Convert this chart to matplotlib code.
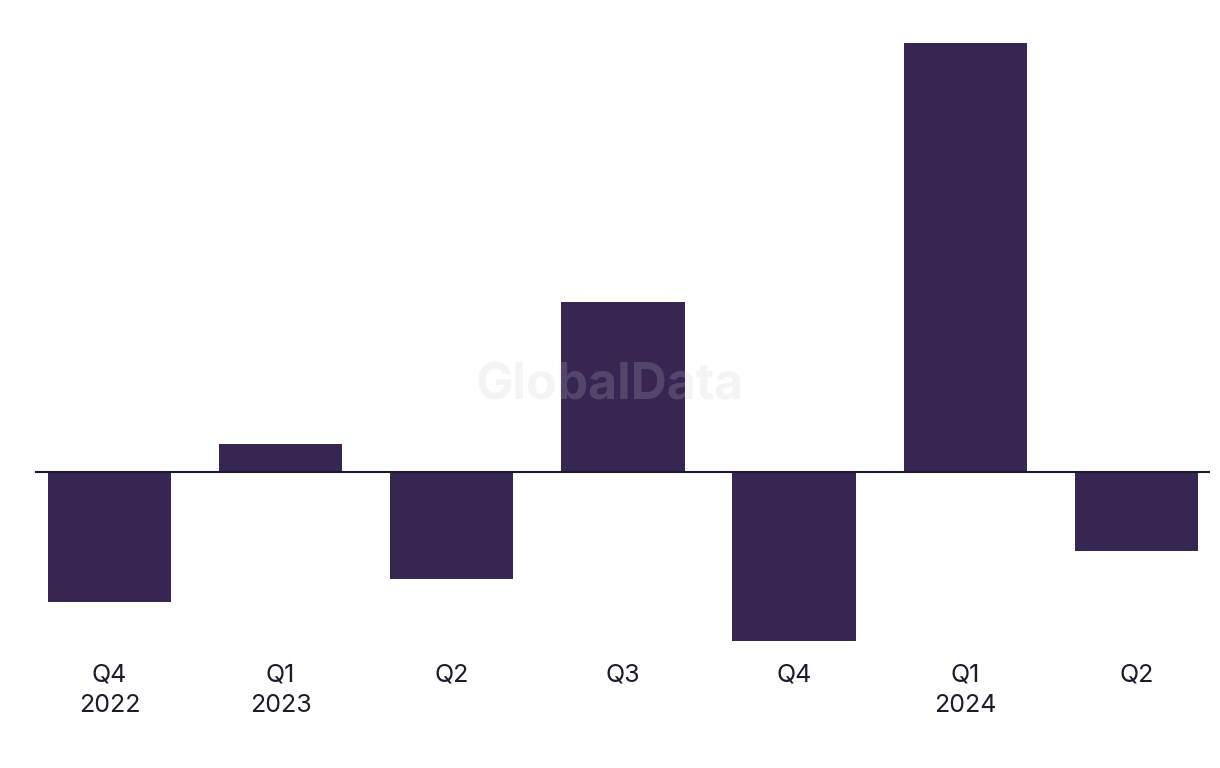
import matplotlib
matplotlib.use('Agg')
import matplotlib.pyplot as plt
import numpy as np

plt.rcParams['font.family'] = ['Inter', 'DejaVu Sans']

# data (no visible axis scale; relative values)
quarters = ['Q4\n2022', 'Q1\n2023', 'Q2', 'Q3', 'Q4', 'Q1\n2024', 'Q2']
values = [-13.0, 2.75, -10.75, 16.95, -16.95, 42.9, -7.95]

bar_color = '#372552'
text_color = '#1c1a2c'

fig = plt.figure(figsize=(12.2, 7.68), dpi=100)
ax = fig.add_axes([35/1220, 118/768, 1175/1220, 620/768])

x = np.arange(len(quarters))
ax.bar(x, values, width=0.72, color=bar_color, zorder=2)
ax.axhline(0, color=text_color, lw=1.5, zorder=3)

ax.set_xlim(-0.435, len(quarters) - 1 + 0.43)
ax.set_ylim(-17.85, 44.15)

ax.set_xticks(x)
ax.set_xticklabels(quarters, fontsize=18, color=text_color, linespacing=1.38)
ax.tick_params(axis='x', length=0, pad=10)
ax.set_yticks([])
for s in ax.spines.values():
    s.set_visible(False)

# watermark
fig.text(0.5, 0.498, 'GlobalData', ha='center', va='center', fontsize=36,
         fontweight='bold', color='#cccccc', alpha=0.2, zorder=10)

fig.savefig('out.png', dpi=100)
